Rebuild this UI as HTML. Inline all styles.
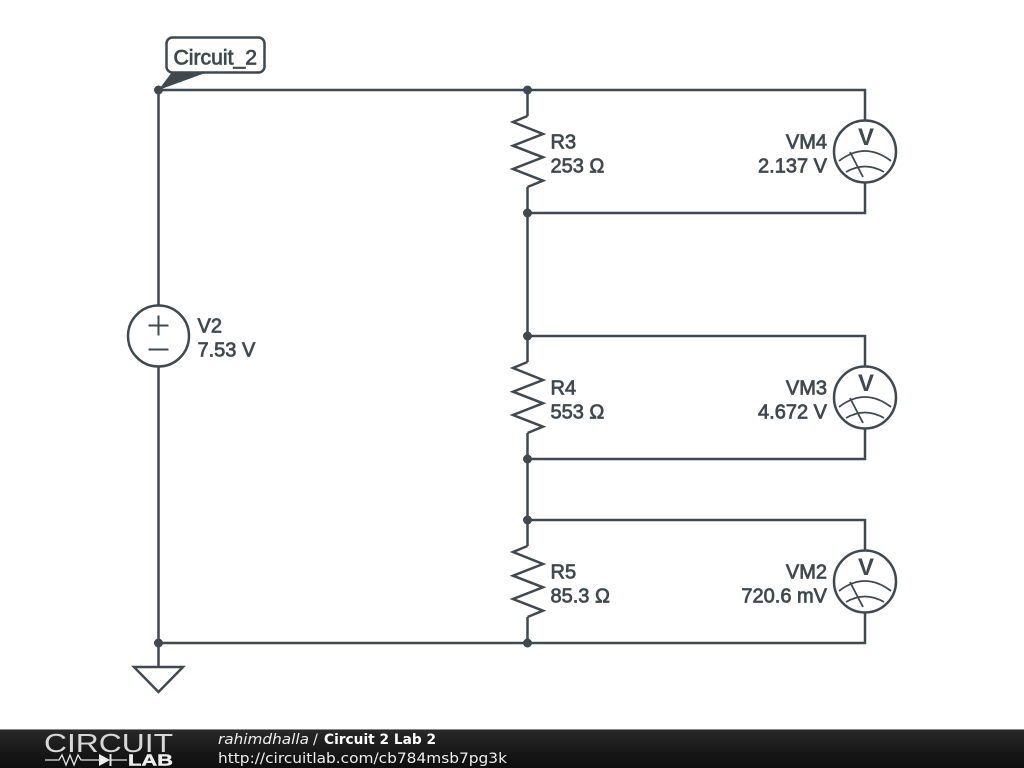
<!DOCTYPE html>
<html><head><meta charset="utf-8"><title>Circuit 2 Lab 2</title>
<style>
html,body{margin:0;padding:0;background:#fff;width:1024px;height:768px;overflow:hidden}
svg{display:block}
.t{font-family:"Liberation Sans",sans-serif;font-size:20px;fill:#3f494f;stroke:#3f494f;stroke-width:.75px}
.w{fill:none;stroke:#3f494f;stroke-width:2.5}
.a{fill:none;stroke:#3f494f;stroke-width:1.8}
</style></head><body>
<svg width="1024" height="768" viewBox="0 0 1024 768" xmlns="http://www.w3.org/2000/svg">
<defs>
<linearGradient id="bar" x1="0" y1="0" x2="0" y2="1"><stop offset="0" stop-color="#2a2a2a"/><stop offset="0.5" stop-color="#1a1a1a"/><stop offset="1" stop-color="#0e0e0e"/></linearGradient>
</defs>
<rect width="1024" height="768" fill="#fff"/>
<g class="w">
<path d="M158.500 90H865V120M865 182V213H527.500M527.500 90V116M527.500 187V362M527.500 336H865V366M865 428V459H527.500M527.500 433V546M527.500 520H865V550M865 612V643H158.500M527.500 617V643M158.500 90V305M158.500 367V667"/>
<path d="M527.500 116L513 122 543 134 513 145.700 543 157.300 513 169 543 180.700 527.500 187"/>
<path d="M527.500 362L513 368 543 380 513 391.700 543 403.300 513 415 543 426.700 527.500 433"/>
<path d="M527.500 546L513 552 543 564 513 575.700 543 587.300 513 599 543 610.700 527.500 617"/>
<circle cx="158.500" cy="336" r="30.500" fill="#fff"/>
<path d="M148.500 325.500H168.500M158.500 315.500V335.500M148.500 349.500H168.500" stroke-width="2"/>
<path d="M134 667H183L158.500 692Z" fill="#fff"/>
<circle cx="865" cy="151.500" r="31" fill="#fff"/>
<circle cx="865" cy="397.500" r="31" fill="#fff"/>
<circle cx="865" cy="581.500" r="31" fill="#fff"/>
</g>
<g class="a">
<path d="M839 161Q865 141 891 161M846 172Q865 161 884 172M850 152L863 177"/>
<path d="M839 407Q865 387 891 407M846 418Q865 407 884 418M850 398L863 423"/>
<path d="M839 591Q865 571 891 591M846 602Q865 591 884 602M850 582L863 607"/>
</g>
<g fill="#3f494f">
<circle cx="158.500" cy="90" r="4.500"/><circle cx="527.500" cy="90" r="4.500"/><circle cx="527.500" cy="213" r="4.500"/><circle cx="527.500" cy="336" r="4.500"/><circle cx="527.500" cy="459" r="4.500"/><circle cx="527.500" cy="520" r="4.500"/><circle cx="527.500" cy="643" r="4.500"/><circle cx="158.500" cy="643" r="4.500"/>
<path d="M158.500 90L172 72H208Z"/>
</g>
<rect x="166.500" y="37.500" width="98" height="35" rx="6" fill="#fff" stroke="#3f494f" stroke-width="2.500"/>
<text class="t" x="173.500" y="64.500" textLength="83.500" lengthAdjust="spacingAndGlyphs" style="font-size:21px">Circuit_2</text>
<g class="t" style="font-size:24px;font-weight:bold;stroke-width:0">
<text x="866" y="145" text-anchor="middle">V</text><text x="866" y="391" text-anchor="middle">V</text><text x="866" y="575" text-anchor="middle">V</text>
</g>
<g class="t">
<text x="197.500" y="332.500">V2</text><text x="197.500" y="356.500">7.53 V</text>
<text x="550.500" y="148.500">R3</text><text x="550.500" y="172.500">253 Ω</text>
<text x="550.500" y="394.500">R4</text><text x="550.500" y="418.500">553 Ω</text>
<text x="550.500" y="578.500">R5</text><text x="550.500" y="602.500">85.3 Ω</text>
<text x="827" y="148.500" text-anchor="end">VM4</text><text x="827" y="172.500" text-anchor="end">2.137 V</text>
<text x="827" y="394.500" text-anchor="end">VM3</text><text x="827" y="418.500" text-anchor="end">4.672 V</text>
<text x="827" y="578.500" text-anchor="end">VM2</text><text x="827" y="602.500" text-anchor="end">720.6 mV</text>
</g>
<rect x="0" y="729" width="1024" height="39" fill="url(#bar)"/>
<rect x="0" y="729" width="1024" height="1" fill="#8a8a8a"/>
<text x="44" y="752" font-family="Liberation Sans,sans-serif" font-size="26" fill="#d8d8d8" textLength="129" lengthAdjust="spacingAndGlyphs">CIRCUIT</text>
<g fill="none" stroke="#e4e4e4" stroke-width="1.300">
<path d="M45 760H59L62 755 66 765 70 755 74 765 78 755 81 760H100M110 760H127"/>
<path d="M110.500 754V766" stroke-width="2"/>
</g>
<path d="M99 754V766L110 760Z" fill="#eee"/>
<text x="128" y="765.500" font-family="Liberation Sans,sans-serif" font-size="15.500" font-weight="bold" fill="#eee" stroke="#eee" stroke-width=".4" textLength="45" lengthAdjust="spacingAndGlyphs">LAB</text>
<g font-family="DejaVu Sans,sans-serif" fill="#eee">
<text x="218" y="744" font-size="14.500" font-style="italic" textLength="91" lengthAdjust="spacingAndGlyphs">rahimdhalla</text>
<text x="313" y="744" font-size="14.500">/</text>
<text x="324" y="744" font-size="14" font-weight="bold" fill="#fff" textLength="112" lengthAdjust="spacingAndGlyphs">Circuit 2 Lab 2</text>
<text x="218" y="763" font-size="14.500" textLength="289" lengthAdjust="spacingAndGlyphs">http://circuitlab.com/cb784msb7pg3k</text>
</g>
</svg>
</body></html>
